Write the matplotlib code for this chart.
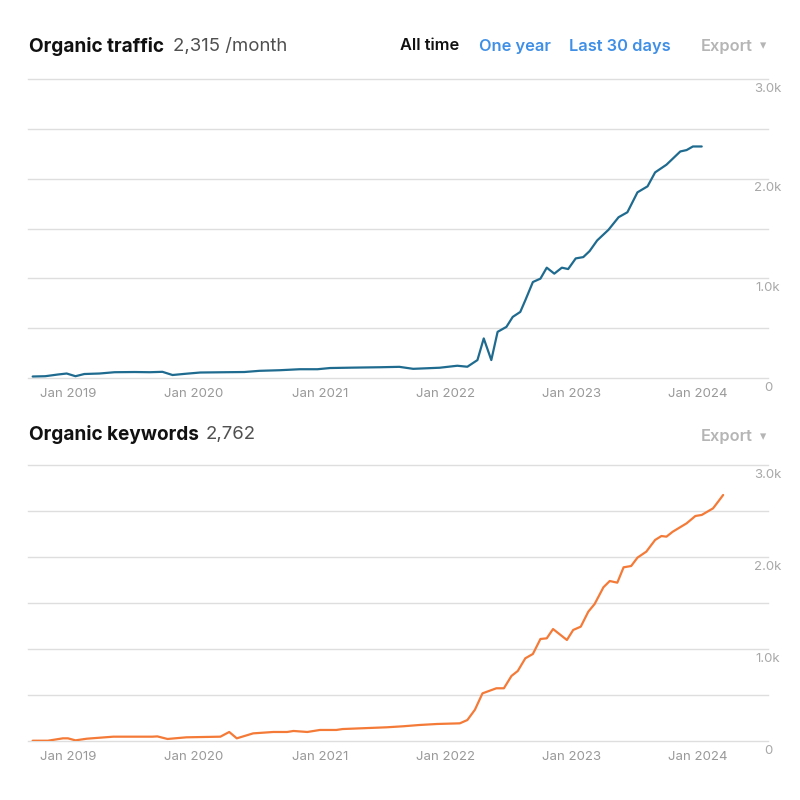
import matplotlib.pyplot as plt

plt.rcParams['font.family'] = ['Inter', 'DejaVu Sans']

# Organic traffic (decimal year, visits / month)
traffic_x = [2018.72, 2018.82, 2018.92, 2018.99, 2019.06, 2019.13, 2019.25, 2019.37,
             2019.53, 2019.65, 2019.75, 2019.83, 2019.93, 2020.05, 2020.25, 2020.40,
             2020.52, 2020.68, 2020.84, 2020.98, 2021.08, 2021.26, 2021.48, 2021.63,
             2021.74, 2021.95, 2022.09, 2022.17, 2022.25, 2022.30, 2022.36, 2022.41,
             2022.48, 2022.53, 2022.59, 2022.63, 2022.69, 2022.75, 2022.80, 2022.86,
             2022.92, 2022.97, 2023.03, 2023.09, 2023.14, 2023.20, 2023.29, 2023.37,
             2023.44, 2023.52, 2023.60, 2023.66, 2023.75, 2023.86, 2023.91, 2023.96,
             2024.03]
traffic_y = [15, 18, 35, 45, 18, 40, 45, 58,
             60, 58, 62, 30, 42, 55, 58, 60,
             72, 78, 88, 88, 100, 104, 108, 112,
             92, 103, 123, 113, 180, 397, 180, 463,
             513, 613, 663, 780, 963, 997, 1107, 1047,
             1107, 1093, 1200, 1213, 1273, 1380, 1487, 1613,
             1663, 1863, 1923, 2063, 2140, 2273, 2287, 2323,
             2323]

# Organic keywords (decimal year, count)
keywords_x = [2018.72, 2018.84, 2018.96, 2019.00, 2019.06, 2019.15, 2019.36, 2019.67,
              2019.71, 2019.79, 2019.94, 2020.21, 2020.28, 2020.34, 2020.47, 2020.63,
              2020.74, 2020.79, 2020.90, 2021.00, 2021.13, 2021.18, 2021.53, 2021.66,
              2021.79, 2021.93, 2022.11, 2022.17, 2022.23, 2022.29, 2022.40, 2022.46,
              2022.52, 2022.57, 2022.63, 2022.69, 2022.75, 2022.80, 2022.85, 2022.96,
              2023.01, 2023.07, 2023.13, 2023.18, 2023.25, 2023.30, 2023.36, 2023.41,
              2023.47, 2023.52, 2023.59, 2023.66, 2023.71, 2023.75, 2023.80, 2023.91,
              2023.98, 2024.03, 2024.12, 2024.16, 2024.20]
keywords_y = [3, 3, 29, 29, 7, 25, 47, 47,
              50, 22, 40, 47, 98, 29, 83, 98,
              98, 109, 98, 120, 120, 130, 149, 160,
              174, 185, 192, 228, 340, 518, 573, 573,
              707, 761, 899, 946, 1109, 1116, 1217, 1098,
              1207, 1243, 1406, 1489, 1671, 1739, 1721, 1888,
              1902, 1993, 2058, 2185, 2228, 2221, 2275, 2366,
              2446, 2457, 2529, 2601, 2674]

year_ticks = [2019, 2020, 2021, 2022, 2023, 2024]
year_labels = ['Jan 2019', 'Jan 2020', 'Jan 2021', 'Jan 2022', 'Jan 2023', 'Jan 2024']
y_ticks = [0, 1000, 2000, 3000]
y_labels = ['0', '1.0k', '2.0k', '3.0k']
grid_vals = [0, 500, 1000, 1500, 2000, 2500, 3000]

GRID = '#dedede'
MUTED = '#a8a8a8'
BLUE = '#3f8fe6'

fig = plt.figure(figsize=(8, 8), dpi=100)


def px(x, y):
    return x / 800, 1 - y / 800


def panel(rect, xs, ys, color):
    ax = fig.add_axes(rect)
    ax.plot(xs, ys, color=color, lw=1.6, solid_capstyle='round', solid_joinstyle='round', zorder=3)
    ax.set_xlim(2018.683, 2024.556)
    ax.set_ylim(0, 3000)
    for v in grid_vals:
        ax.axhline(v, color=GRID, lw=1, zorder=1, clip_on=False)
    for s in ax.spines.values():
        s.set_visible(False)
    ax.set_yticks([])
    ax.set_xticks(year_ticks)
    ax.set_xticklabels(year_labels, color='#999999', fontsize=9.5)
    ax.tick_params(axis='x', length=0, pad=7)
    for v, lab in zip(y_ticks, y_labels):
        ax.annotate(lab, xy=(1.0, v), xycoords=('axes fraction', 'data'),
                    xytext=(0, -7), textcoords='offset points',
                    ha='center', va='center', color=MUTED, fontsize=9.5)
    return ax


panel([0.035, 0.5275, 0.925, 0.37375], traffic_x, traffic_y, '#1f6b8f')
panel([0.035, 0.07375, 0.925, 0.345], keywords_x, keywords_y, '#f47a38')

# headers
fig.text(*px(29, 46), 'Organic traffic', fontsize=13.7, fontweight='bold', color='#111111', va='center')
fig.text(*px(173, 46), '2,315 /month', fontsize=13.4, color='#505050', va='center')
fig.text(*px(400, 46), 'All time', fontsize=11.8, fontweight='semibold', color='#111111', va='center')
fig.text(*px(479, 46), 'One year', fontsize=11.8, fontweight='semibold', color=BLUE, va='center')
fig.text(*px(569, 46), 'Last 30 days', fontsize=11.8, fontweight='semibold', color=BLUE, va='center')
fig.text(*px(701, 46), 'Export', fontsize=11.8, fontweight='semibold', color='#b5b5b5', va='center')
fig.text(*px(760, 46), '\u25be', fontsize=9, color='#b5b5b5', va='center')

fig.text(*px(29, 434), 'Organic keywords', fontsize=13.7, fontweight='bold', color='#111111', va='center')
fig.text(*px(206, 434), '2,762', fontsize=13.4, color='#505050', va='center')
fig.text(*px(701, 437), 'Export', fontsize=11.8, fontweight='semibold', color='#b5b5b5', va='center')
fig.text(*px(760, 437), '\u25be', fontsize=9, color='#b5b5b5', va='center')

fig.savefig('out.png', dpi=100, facecolor='white')
